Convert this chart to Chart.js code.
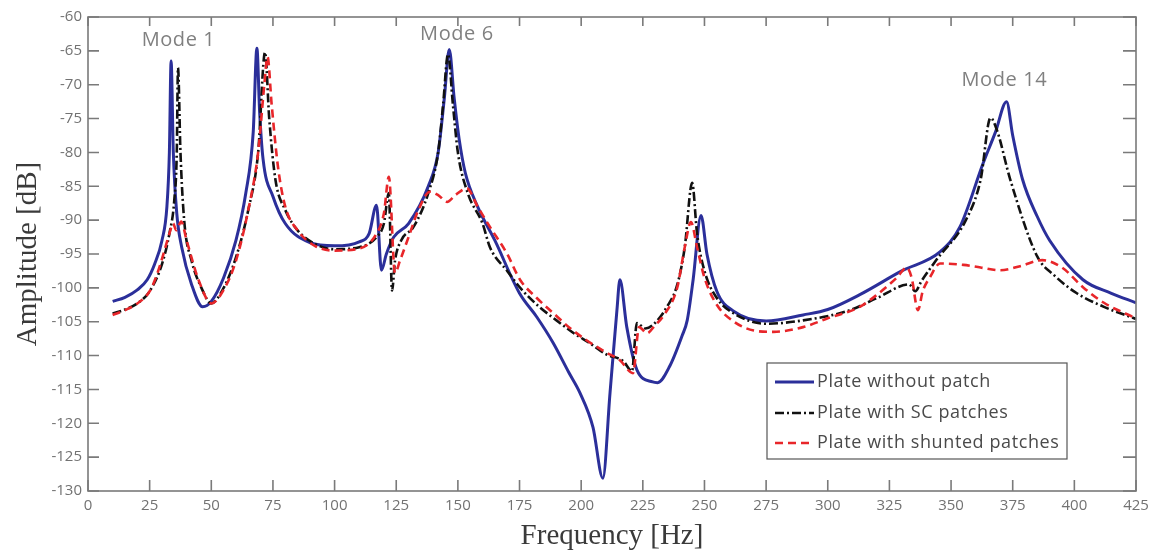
<!DOCTYPE html>
<html>
<head>
<meta charset="utf-8">
<script src="https://cdn.jsdelivr.net/npm/chart.js@4.4.1/dist/chart.umd.min.js"></script>
<style>
html,body{margin:0;padding:0;background:#fff;}
#wrap{width:1157px;height:556px;position:relative;}
</style>
</head>
<body>
<div id="wrap"><canvas id="c" width="1157" height="556"></canvas></div>
<script>
// ---- Data ----
const xTicks = [0,25,50,75,100,125,150,175,200,225,250,275,300,325,350,375,400,425];
const yTicks = [-130,-125,-120,-115,-110,-105,-100,-95,-90,-85,-80,-75,-70,-65,-60];

const seriesLabels = ["Plate without patch", "Plate with SC patches", "Plate with shunted patches"];
const modeLabels = ["Mode 1", "Mode 6", "Mode 14"];
const modeFreqs = [36.7, 149.6, 371.6];
const modeDb = [-63.5, -62.6, -69.4];

const blueFreq = [10,15,20,24,27,30,32,33,33.7,34.6,36,38,42,46.5,50,55,60,64,67,68.5,69.6,71,75,80,90,100,110,114,117,119,121,124,130,138,142,144.5,146.5,148.5,150.5,153,158,165,175,182,188.6,195,199.5,204.8,208.8,211.7,214.5,215.7,218.5,222.6,229,231,236,241,243,245.4,248.6,251,255,262,275,290,300,313,330,345.5,353.6,363,368,372.5,375,379,385,390,403.5,415,425];
const blueDb   = [-102,-101.4,-100.3,-98.8,-96.5,-93,-88,-80,-66.5,-80,-89,-94,-99.5,-102.8,-102,-98.5,-93,-86,-77,-64.6,-74,-81,-86.5,-90.5,-93.3,-93.8,-93.2,-92,-87.8,-97.4,-95,-92.5,-90.5,-85,-80,-72,-64.8,-72,-78,-83,-88,-93,-100.8,-104.3,-108.1,-112.5,-115.5,-120.6,-128.1,-115.5,-103.3,-98.8,-105.8,-112.1,-113.9,-114,-111.5,-107,-104.8,-98.8,-89.3,-95,-100.5,-103.5,-104.9,-104,-103.2,-101,-97.5,-94.7,-91,-81.6,-77,-72.5,-77.5,-84,-89.5,-93,-98.8,-100.8,-102.2];

const blackFreq = [10,15,20,25,30,33,35,36,36.5,37.5,39,42,46,50,55,60,65,69,71.8,73.5,76,80,85,92,100,110,117,120,122,123.3,124.5,127,132,138,142,144,146,148,150,154,160,163,170,176,183,190,197,203.6,210,217,220.6,222.6,226,229,234.8,239,242,245,247,250,255,262,275,290,309,320,333,335.5,338,344,356,362,366,368.6,374,385,392,401,412,425];
const blackDb   = [-103.8,-103.2,-102.3,-100.5,-96.5,-92,-87,-80,-67.5,-80,-90,-96,-100,-102.3,-100,-95.5,-88.5,-80,-65.2,-75,-84,-88.5,-91.5,-93.5,-94.3,-94,-92.5,-90.5,-86,-100.4,-96,-93,-91,-86,-80,-73,-65.5,-73,-80,-86,-90.5,-94,-97.5,-100.3,-102.8,-104.8,-106.7,-108.2,-109.8,-110.8,-112.3,-105.2,-106,-105.5,-102.8,-99.5,-94,-84.5,-92,-97.5,-101.5,-103.8,-105.3,-104.8,-103.3,-101.5,-99.5,-100.5,-99,-95.9,-90,-84,-74.9,-76.7,-84,-95.4,-98.2,-100.8,-102.8,-104.6];

const redFreq = [10,15,20,25,28,31,33,34.5,35.8,37.8,40,45,50,55,60,65,69,71.5,72.8,74.5,77,80,85,92,100,110,117,120,122,124.5,126.5,130,134,138.7,142,145.6,149,153.6,158,163,170,175.2,182,188.6,195,202,210,215.7,221,223.5,226.7,230,233,239,242,244.5,247,250,255,262,270,278,290,300,313,320,328,332,334,336.6,338.5,341.5,345.5,355,362,370,378,387,395,403.5,412,425];
const redDb   = [-104,-103.3,-102.3,-100.5,-98,-94.5,-92,-90.5,-91.5,-90.2,-93,-99,-102.3,-100.3,-96,-88.5,-80,-70,-65.9,-73,-82,-88,-91.5,-93.8,-94.5,-94.2,-92,-89,-83.6,-97.8,-96,-92.5,-88.5,-85.8,-86.3,-87.3,-86.3,-85.3,-88,-91,-95,-98.8,-101.5,-103.7,-105.8,-107.7,-109.5,-110.7,-112.6,-105.8,-106.7,-105.5,-104.3,-99.9,-94,-90.3,-94,-98.5,-102.5,-105,-106.3,-106.5,-105.8,-104.5,-102.8,-101,-98.5,-97,-98.5,-103.3,-100.5,-98.4,-96.4,-96.6,-97,-97.4,-96.8,-95.9,-97,-99.9,-102.2,-104.5];

const colors = ["#2b2f9a", "#111111", "#e8262a"];

function pts(fx, fy){ return fx.map((f,i)=>({x:f, y:fy[i]})); }

const AXIS_COLOR = "#7a7a7a";
const TICK_LEN = 11;

const boxTicks = {
  id: 'boxTicks',
  afterDatasetsDraw(chart){
    const {ctx, chartArea:a, scales} = chart;
    ctx.save();
    ctx.strokeStyle = AXIS_COLOR;
    ctx.lineWidth = 1.6;
    ctx.strokeRect(a.left, a.top, a.right-a.left, a.bottom-a.top);
    ctx.beginPath();
    xTicks.forEach(v=>{
      const px = scales.x.getPixelForValue(v);
      ctx.moveTo(px, a.bottom); ctx.lineTo(px, a.bottom-TICK_LEN);
      ctx.moveTo(px, a.top); ctx.lineTo(px, a.top+9);
    });
    yTicks.forEach(v=>{
      const py = scales.y.getPixelForValue(v);
      ctx.moveTo(a.left, py); ctx.lineTo(a.left+TICK_LEN, py);
      ctx.moveTo(a.right, py); ctx.lineTo(a.right-13, py);
    });
    ctx.stroke();

    // mode annotations
    ctx.fillStyle = "#808080";
    ctx.font = "20px 'Open Sans'";
    if ('letterSpacing' in ctx) ctx.letterSpacing = "0.6px";
    ctx.textAlign = "center";
    ctx.textBaseline = "middle";
    modeLabels.forEach((t,i)=>{
      ctx.fillText(t, scales.x.getPixelForValue(modeFreqs[i]), scales.y.getPixelForValue(modeDb[i]));
    });

    // legend box
    const lx = 767, ly = 363, lw = 300, lh = 96;
    ctx.fillStyle = "#ffffff";
    ctx.fillRect(lx, ly, lw, lh);
    ctx.strokeStyle = "#555";
    ctx.lineWidth = 1.2;
    ctx.strokeRect(lx, ly, lw, lh);
    const rows = [382, 413, 443];
    chart.data.datasets.forEach((ds, i)=>{
      ctx.save();
      ctx.strokeStyle = ds.borderColor;
      ctx.lineWidth = ds.borderWidth;
      ctx.setLineDash(ds.borderDash || []);
      ctx.beginPath();
      ctx.moveTo(775, rows[i]); ctx.lineTo(814, rows[i]);
      ctx.stroke();
      ctx.restore();
      ctx.fillStyle = "#4a4a4a";
      ctx.font = "18px 'Open Sans'";
      if ('letterSpacing' in ctx) ctx.letterSpacing = "0.6px";
      ctx.textAlign = "left";
      ctx.textBaseline = "middle";
      ctx.fillText(ds.label, 817, rows[i]);
    });
    ctx.restore();
  }
};

new Chart(document.getElementById('c'), {
  type: 'line',
  data: {
    datasets: [
      {label: seriesLabels[0], data: pts(blueFreq, blueDb), borderColor: colors[0], borderWidth: 3, pointRadius: 0, order: 3, cubicInterpolationMode: 'monotone'},
      {label: seriesLabels[1], data: pts(blackFreq, blackDb), borderColor: colors[1], borderWidth: 2.6, borderDash: [9,3,2,3], pointRadius: 0, order: 2, cubicInterpolationMode: 'monotone'},
      {label: seriesLabels[2], data: pts(redFreq, redDb), borderColor: colors[2], borderWidth: 2.6, borderDash: [8,5], pointRadius: 0, order: 1, cubicInterpolationMode: 'monotone'}
    ]
  },
  options: {
    responsive: false,
    animation: false,
    devicePixelRatio: 1,
    layout: {padding: {top: 17, right: 21, left: 0, bottom: 0}},
    plugins: {legend: {display: false}, tooltip: {enabled: false}},
    scales: {
      x: {
        type: 'linear', min: 0, max: 425,
        afterFit(s){ s.height = 65; },
        afterBuildTicks(s){ s.ticks = xTicks.map(v=>({value:v})); },
        grid: {display: false, drawTicks: false},
        border: {display: false},
        ticks: {color: "#727272", font: {family: "'Open Sans'", size: 15}, padding: 6, maxRotation: 0, autoSkip: false},
        title: {display: true, text: "Frequency [Hz]", color: "#3a3a3a", font: {family: "'Liberation Serif'", size: 29}, padding: {top: 0, bottom: 2}}
      },
      y: {
        type: 'linear', min: -130, max: -60,
        afterFit(s){ s.width = 88; },
        afterBuildTicks(s){ s.ticks = yTicks.map(v=>({value:v})); },
        grid: {display: false, drawTicks: false},
        border: {display: false},
        ticks: {color: "#727272", font: {family: "'Open Sans'", size: 15}, padding: 6, autoSkip: false},
        title: {display: true, text: "Amplitude [dB]", color: "#3a3a3a", font: {family: "'Liberation Serif'", size: 29}, padding: {top: 11, bottom: 0}}
      }
    }
  },
  plugins: [boxTicks]
});
</script>
</body>
</html>
